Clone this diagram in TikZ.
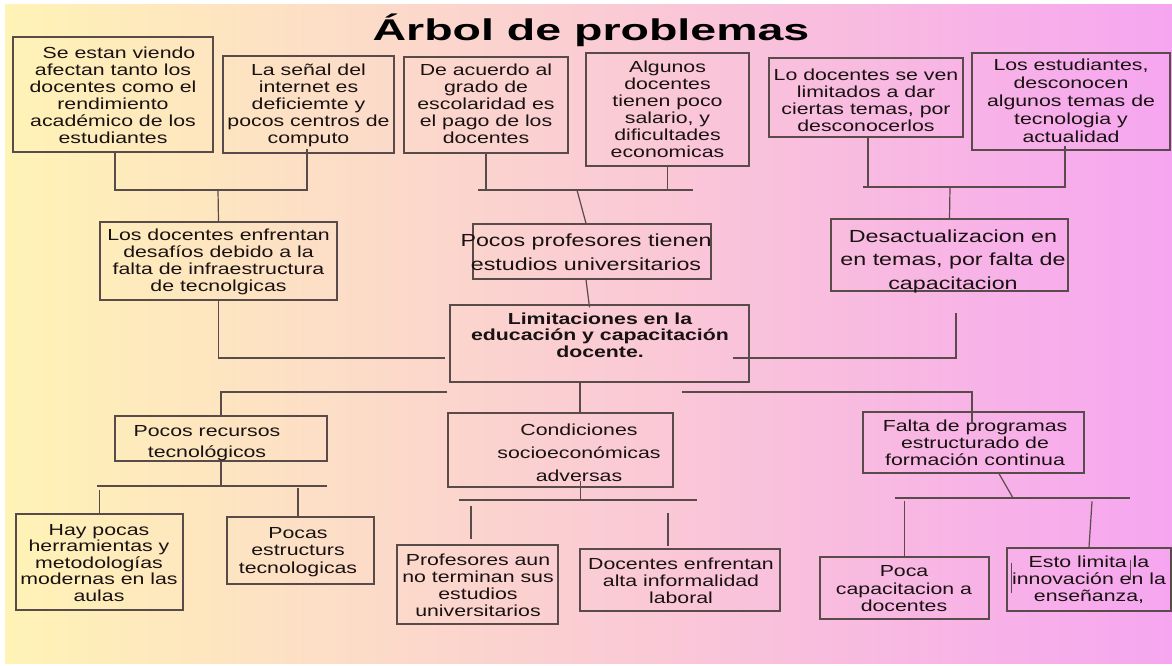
\documentclass[tikz,border=0pt]{standalone}
\usepackage{fontspec}
\setmainfont[FakeStretch=1.33]{Liberation Sans}
\newfontfamily\titlefont[FakeStretch=1.55]{Liberation Sans}
\usetikzlibrary{calc}
\definecolor{bgl}{HTML}{FFF3B6}
\definecolor{bgm}{HTML}{FAC8C8}
\definecolor{bgr}{HTML}{F6A6F0}
\definecolor{linec}{HTML}{5A4B4B}
\definecolor{textc}{HTML}{1A1212}
\tikzset{
  prob/.style={draw=linec, line width=1.3pt, inner sep=0pt},
  pbox/.style 2 args={prob, minimum width=#1pt, minimum height=#2pt},
  txt/.style={align=center, inner sep=0pt, text=textc, font=\fontsize{16}{17}\selectfont},
  conn/.style={draw=linec, line width=1.2pt},
}
\begin{document}
\begin{tikzpicture}[x=1pt,y=-1pt]
\useasboundingbox (0,0) rectangle (1172,665);
\fill[white] (0,0) rectangle (1172,665);
\shade[left color=bgl, middle color=bgm, right color=bgr] (5,4) rectangle (1172,663);
\node[anchor=base, font=\titlefont\bfseries\fontsize{30}{36}\selectfont, text=black] (title) at (591,40) {Árbol de problemas};

\node[pbox={200}{115}] (b1) at (113,94.5) {};
\node[pbox={171}{97}] (b2) at (308.5,104.5) {};
\node[pbox={164}{96}] (b3) at (486,105) {};
\node[pbox={163}{113}] (b4) at (667.5,109.5) {};
\node[pbox={194}{79}] (b5) at (866,97.5) {};
\node[pbox={198}{97}] (b6) at (1071,101.5) {};
\node[pbox={237}{78}] (b7) at (218.5,261) {};
\node[pbox={238}{55}] (b8) at (592,251.5) {};
\node[pbox={299}{77}] (b9) at (599.5,343.5) {};
\node[pbox={237}{72}] (b10) at (949.5,255) {};
\node[pbox={212}{45}] (b11) at (221,438.5) {};
\node[pbox={225}{74}] (b12) at (560.5,450) {};
\node[pbox={221}{61}] (b13) at (973.5,442.5) {};
\node[pbox={167}{96}] (b14) at (99.5,562) {};
\node[pbox={147}{67}] (b15) at (300.5,550.5) {};
\node[pbox={161}{79}] (b16) at (477.5,584.5) {};
\node[pbox={200}{62}] (b17) at (680,580) {};
\node[pbox={169}{62}] (b18) at (904.5,588) {};
\node[pbox={164}{63}] (b19) at (1089,579.5) {};

\node[txt] (t1) at (113,95) {\hspace*{12pt}Se estan viendo\\afectan tanto los\\docentes como el\\rendimiento\\académico de los\\estudiantes};
\node[txt] (t2) at (308.5,105) {La señal del\\internet es\\deficiemte y\\pocos centros de\\computo};
\node[txt] (t3) at (486,104) {De acuerdo al\\grado de\\escolaridad es\\el pago de los\\docentes};
\node[txt] (t4) at (667.5,109) {Algunos\\docentes\\tienen poco\\salario, y\\dificultades\\economicas};
\node[txt] (t5) at (866,100) {Lo docentes se ven\\limitados a dar\\ciertas temas, por\\desconocerlos};
\node[txt, font=\fontsize{16}{18}\selectfont] (t6) at (1071,101) {Los estudiantes,\\desconocen\\algunos temas de\\tecnologia y\\actualidad};
\node[txt] (t7) at (218.5,262) {Los docentes enfrentan\\desafíos debido a la\\falta de infraestructura\\de tecnolgicas};
\node[txt, font=\fontsize{17.5}{24}\selectfont] (t8) at (586,252) {Pocos profesores tienen\\estudios universitarios};
\node[txt, font=\bfseries\fontsize{16}{16.5}\selectfont] (t9) at (600,335) {Limitaciones en la\\educación y capacitación\\docente.};
\node[txt, font=\fontsize{17.5}{23.5}\selectfont] (t10) at (953,261) {Desactualizacion en\\en temas, por falta de\\capacitacion};
\node[txt, font=\fontsize{16}{21}\selectfont] (t11) at (207,443) {Pocos recursos\\tecnológicos};
\node[txt, font=\fontsize{16}{23}\selectfont] (t12) at (579,453) {Condiciones\\socioeconómicas\\adversas};
\node[txt] (t13) at (975,443) {Falta de programas\\estructurado de\\formación continua};
\node[txt, font=\fontsize{16}{16.5}\selectfont] (t14) at (99,563) {Hay pocas\\herramientas y\\metodologías\\modernas en las\\aulas};
\node[txt, font=\fontsize{16}{17.5}\selectfont] (t15) at (298,552) {Pocas\\estructurs\\tecnologicas};
\node[txt] (t16) at (478,585) {Profesores aun\\no terminan sus\\estudios\\universitarios};
\node[txt] (t17) at (681,581) {Docentes enfrentan\\alta informalidad\\laboral};
\node[txt, font=\fontsize{16}{17.5}\selectfont] (t18) at (904,589) {Poca\\capacitacion a\\docentes};
\node[txt] (t19) at (1089,580) {Esto limita la\\innovación en la\\enseñanza,};

\coordinate (j1) at (218,190);
\coordinate (m1) at (445,358);
\draw[conn] ([xshift=2pt]b1.south) |- (j1) -| ([xshift=-1.5pt,yshift=5pt]b2.south);
\draw[conn] (j1) -- (b7.north);
\draw[conn] (b7.south) |- (m1);

\coordinate (j2a) at (478,190);
\coordinate (j2b) at (693,190);
\coordinate (j2) at (577,190);
\draw[conn] (j2a) -- (j2b);
\draw[conn] (b3.south) -- (b3.south |- j2a);
\draw[conn] (b4.south) -- (b4.south |- j2a);
\draw[conn] (j2) -- ([xshift=-6pt]b8.north);
\draw[conn] ([xshift=-6pt]b8.south) -- ([xshift=-10pt,yshift=-3pt]b9.north);

\coordinate (j3a) at (863,187);
\coordinate (j3b) at (1066,187);
\coordinate (j3) at (950,187);
\coordinate (j4) at (956,313);
\coordinate (m2) at (733,358);
\draw[conn] (j3a) -- (j3b);
\draw[conn] ([xshift=2pt]b5.south) -- ([xshift=2pt]b5.south |- j3a);
\draw[conn] ([xshift=-6pt,yshift=5pt]b6.south) -- ([xshift=-6pt]b6.south |- j3a);
\draw[conn] (j3) -- (b10.north);
\draw[conn] (j4) |- (m2);

\coordinate (m3) at (447,392);
\coordinate (m4) at (682,392);
\draw[conn] ([xshift=-19.5pt]b9.south) -- ([xshift=19.5pt]b12.north);
\draw[conn] (m3) -| (b11.north);
\draw[conn] (m4) -| ([xshift=-1.5pt,yshift=-13pt]b13.north);

\coordinate (k1a) at (97,486);
\coordinate (k1b) at (327,486);
\draw[conn] (k1a) -- (k1b);
\draw[conn] (b11.south) -- (b11.south |- k1a);
\draw[conn] ($(b14.north |- k1a)+(0,4)$) -- (b14.north);
\draw[conn] ($(b15.north |- k1a)+(-2.5,2)$) -- ([xshift=-2.5pt]b15.north);

\coordinate (k2a) at (459,500);
\coordinate (k2b) at (697,500);
\draw[conn] (k2a) -- (k2b);
\draw[conn] ([xshift=20pt,yshift=7pt]b12.south) -- ([xshift=20pt]b12.south |- k2a);
\draw[conn] ($(b16.north)+(-6.5,-5)$) -- ($(b16.north)+(-6.5,-38)$);
\draw[conn] ($(b17.north)+(-12,-2)$) -- ($(b17.north)+(-12,-35)$);

\coordinate (k3a) at (895,498);
\coordinate (k3b) at (1130,498);
\coordinate (k3) at (1013,498);
\draw[conn] (k3a) -- (k3b);
\draw[conn] ($(b13.south)+(25.5,0)$) -- (k3);
\draw[conn] ($(b18.north)+(0,-55)$) -- (b18.north);
\draw[conn] ($(b19.north)+(3,-46)$) -- (b19.north);
\draw[conn, line width=0.8pt] (1011,563) -- (1011,593) (1130,560) -- (1130,580);
\end{tikzpicture}
\end{document}
